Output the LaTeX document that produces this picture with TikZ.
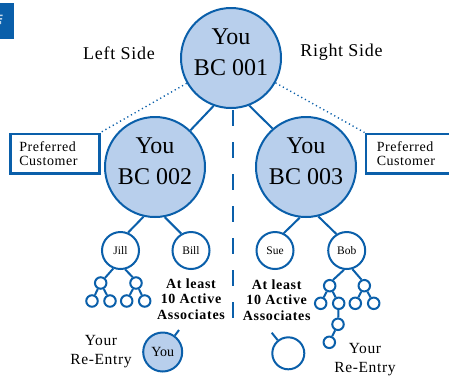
\documentclass[tikz,border=0pt]{standalone}
\usepackage{fontspec}
\setmainfont{Liberation Serif}
\newfontfamily\spacedA[LetterSpace=4]{Liberation Serif}
\newfontfamily\spacedB[LetterSpace=5]{Liberation Serif}
\definecolor{ln}{RGB}{10,95,170}
\definecolor{fl}{RGB}{184,207,236}
\tikzset{x=1pt,y=-1pt,
 big/.style={circle,draw=ln,fill=fl,line width=2pt,minimum size=100pt,inner sep=0pt,align=center,text depth=12pt,font=\fontsize{24}{31}\selectfont},
 mid/.style={circle,draw=ln,fill=white,line width=2pt,minimum size=37pt,inner sep=0pt,font=\fontsize{11.5}{13}\selectfont},
 tiny/.style={circle,draw=ln,fill=white,line width=2pt,minimum size=11.5pt,inner sep=0pt},
 link/.style={draw=ln,line width=2pt},
 dotl/.style={draw=ln,line width=1.4pt,dash pattern=on 1.2pt off 3pt},
 pref/.style={draw=ln,fill=white,line width=2.5pt,minimum height=39.5pt,inner sep=0pt,align=left,font=\spacedA\fontsize{14}{14.5}\selectfont},
 lab/.style={align=center,inner sep=0pt,font=\spacedA\fontsize{18}{20}\selectfont},
 reentry/.style={align=center,inner sep=0pt,font=\spacedA\fontsize{15.5}{19}\selectfont},
 bold/.style={align=center,inner sep=0pt,font=\spacedB\bfseries\fontsize{14}{15.5}\selectfont}}
\begin{document}
\begin{tikzpicture}
\useasboundingbox (0,0) rectangle (449,376);
\clip (0,0) rectangle (449,376);
\fill[ln] (0,3) rectangle (14,39);
\fill[white!75!ln] (0,14.5) rectangle (2.5,16) (0,18) rectangle (2,19.5) (0,21) rectangle (1.2,24);
% circles
\node[big] (top) at (231,58) {You\\BC 001};
\node[big] (l) at (155,167) {You\\BC 002};
\node[big] (r) at (306,167) {You\\BC 003};
\node[mid] (jill) at (120.5,250.5) {Jill};
\node[mid] (bill) at (191,250.5) {Bill};
\node[mid] (sue) at (275,250.5) {Sue};
\node[mid] (bob) at (346.7,250.5) {Bob};
\node[tiny] (a) at (100.7,283) {};
\node[tiny] (b) at (136,283) {};
\node[tiny] (a1) at (92,301) {};
\node[tiny] (a2) at (110,301) {};
\node[tiny] (b1) at (126.7,301) {};
\node[tiny] (b2) at (144.7,301) {};
\node[tiny] (c) at (329.7,285.7) {};
\node[tiny] (d) at (364.3,285.7) {};
\node[tiny] (c1) at (320.7,303.3) {};
\node[tiny] (c2) at (338.7,303.3) {};
\node[tiny] (d1) at (355.3,303.3) {};
\node[tiny] (d2) at (373.7,303.3) {};
\node[tiny] (e) at (338,324.3) {};
\node[tiny] (f) at (329.3,342.3) {};
\node[circle,draw=ln,fill=fl,line width=2pt,minimum size=39pt,inner sep=0pt,font=\fontsize{14}{15}\selectfont] (you) at (162.7,352) {You};
\node[circle,draw=ln,fill=white,line width=2pt,minimum size=32pt,inner sep=0pt] (empty) at (288.3,353.3) {};
\coordinate (youT) at (179,330);
\coordinate (emptyT) at (271.7,332.7);
\coordinate (dashA) at (233,110);
\coordinate (dashB) at (233,318);
% connectors
\foreach \p/\q in {top.250/l.46,top.291/r.131,l.257/jill.67,l.281/bill.120,r.263/sue.63,r.284/bob.122,jill.248/a.50,jill.284/b.120,a/a1,a/a2,b/b1,b/b2,bob.262/c.60,bob.287/d.115,c/c1,c/c2,d/d1,d/d2,c2/e,e/f,you/youT,empty/emptyT}
  \draw[link] (\p) -- (\q);
\draw[draw=ln,line width=2pt,dash pattern=on 16pt off 16pt] (dashA) -- (dashB);
% preferred boxes
\node[pref,anchor=north west,minimum width=89pt,text width=71pt,inner xsep=9pt] (pl) at (9,132.5) {Preferred\\Customer};
\node[pref,anchor=north west,minimum width=100pt,text width=80pt,inner xsep=11pt] (pr) at (364.5,132.5) {Preferred\\Customer};
\draw[dotl] (top) -- (pl.north east);
\draw[dotl] (top) -- (pr.north west);
% labels
\node[lab] (ls) at (119,53) {Left Side};
\node[lab] (rs) at (341.5,52) {Right Side};
\node[bold] (al) at (191,299) {At least\\10 Active\\Associates};
\node[bold] (ar) at (276.7,300) {At least\\10 Active\\Associates};
\node[reentry] (rl) at (101,352) {Your\\Re-Entry};
\node[reentry] (rr) at (365,360) {Your\\Re-Entry};
\end{tikzpicture}
\end{document}
